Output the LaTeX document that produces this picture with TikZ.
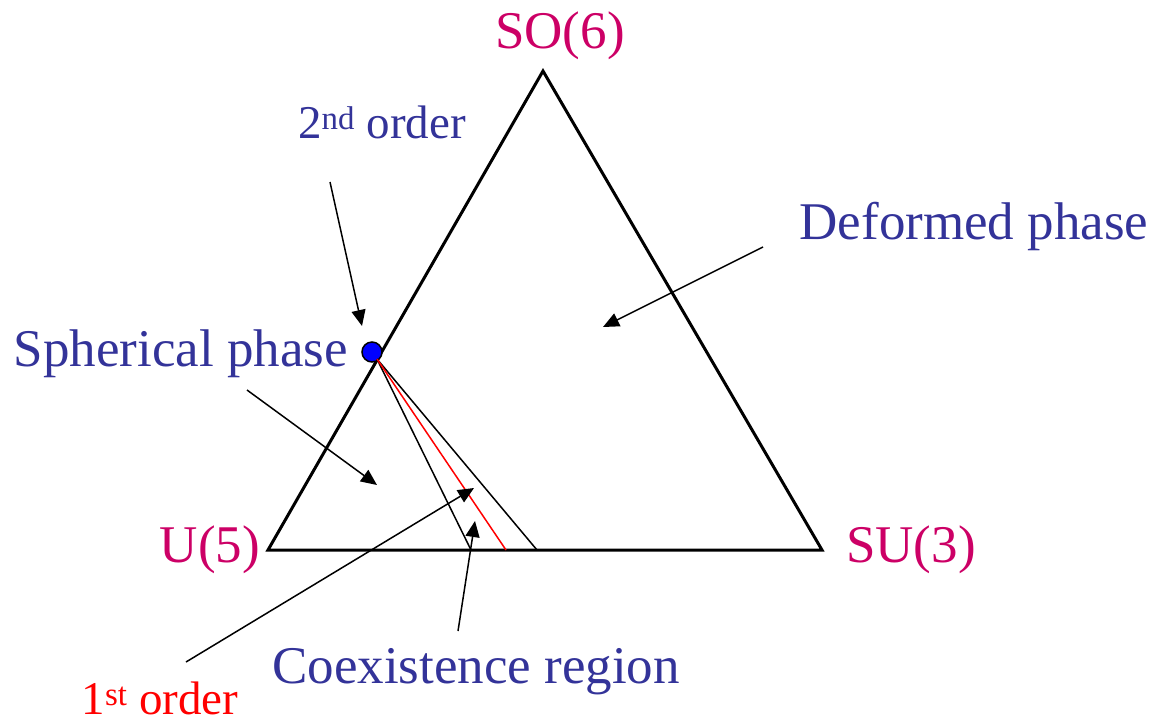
\documentclass[tikz,border=0pt]{standalone}
\usepackage{fontspec}
\setmainfont{Liberation Serif}
\usetikzlibrary{arrows.meta}
\definecolor{lblblue}{HTML}{333399}
\definecolor{vtx}{HTML}{CC0066}
\begin{document}
\begin{tikzpicture}[x=1pt,y=-1pt,
  big/.style={font=\fontsize{53}{60}\selectfont, inner sep=0pt},
  mid/.style={font=\fontsize{47}{54}\selectfont, inner sep=0pt},
  edge/.style={line width=3pt, line join=miter},
  pointer/.style={line width=1.5pt, -{Triangle[length=16pt,width=14pt]}},
  thin/.style={line width=1.5pt}]
\useasboundingbox (0,0) rectangle (1156,724);
% vertices
\coordinate (U) at (268,550);
\coordinate (S) at (822,550);
\coordinate (O) at (543,71);
\draw[edge] (U) -- (S) -- (O) -- cycle;
% critical point
\node[circle, fill=blue, draw=black, line width=1.5pt, minimum size=20pt, inner sep=0pt] (cp) at (372,352) {};
\coordinate (cpf) at (377,359);
\coordinate (bl) at (471,550);
\coordinate (br) at (506,550);
\coordinate (bk) at (537,550);
\draw[thin] (cpf) -- (bl);
\draw[thin] (cpf) -- (bk);
\draw[thin, red] (cpf) -- (br);
% labels
\node[big, text=vtx] (so6) at (560,36) {SO(6)};
\node[big, text=vtx] (su3) at (911,550) {SU(3)};
\node[big, text=vtx] (u5) at (210,550) {U(5)};
\node[mid, text=lblblue] (second) at (382,122) {2\textsuperscript{nd} order};
\node[big, text=lblblue] (deformed) at (974,226) {Deformed phase};
\node[big, text=lblblue] (spherical) at (181,354) {Spherical phase};
\node[big, text=lblblue] (coex) at (476,672) {Coexistence region};
\node[mid, text=red] (first) at (160,698) {1\textsuperscript{st} order};
% pointers
\coordinate (a1s) at (330,182); \coordinate (a1e) at (362,326);
\coordinate (a2s) at (247,390); \coordinate (a2e) at (377,485);
\coordinate (a3s) at (186,662); \coordinate (a3e) at (474,488);
\coordinate (a4s) at (458,631); \coordinate (a4e) at (475,521);
\coordinate (a5s) at (763,247); \coordinate (a5e) at (603,327);
\draw[pointer] (a1s) -- (a1e);
\draw[pointer] (a2s) -- (a2e);
\draw[pointer] (a3s) -- (a3e);
\draw[pointer] (a4s) -- (a4e);
\draw[pointer] (a5s) -- (a5e);
\end{tikzpicture}
\end{document}
